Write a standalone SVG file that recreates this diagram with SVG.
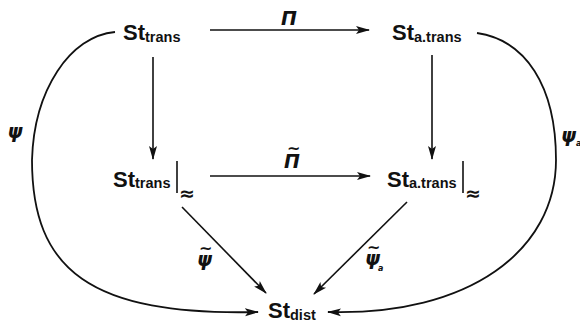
<svg xmlns="http://www.w3.org/2000/svg" width="580" height="326" viewBox="0 0 580 326">
<style>
.st{font-family:"Liberation Sans",Arial,sans-serif;font-weight:bold;font-size:22px;fill:#111}
.sub{font-size:14.5px}
.gr{font-family:"DejaVu Sans",sans-serif;font-weight:bold;font-style:oblique;font-size:19px;fill:#111}
.tl{font-style:normal;font-size:16px}
.eq{font-family:"DejaVu Sans",sans-serif;font-weight:bold;font-size:19px;fill:#111}
.ln{stroke:#111;stroke-width:1.6;fill:none}
.cv{stroke:#111;stroke-width:1.8;fill:none}
</style>
<defs>
<marker id="ah" markerUnits="userSpaceOnUse" markerWidth="14" markerHeight="10" viewBox="0 0 14 10" refX="13" refY="5" orient="auto">
<path d="M0,1 L14,5 L0,9 L3,5 Z" fill="#111"/>
</marker>
</defs>
<rect width="580" height="326" fill="#fff"/>
<g id="connectors">
<line class="ln" x1="210" y1="30" x2="369" y2="30" marker-end="url(#ah)"/>
<line class="ln" x1="210" y1="176" x2="370" y2="176" marker-end="url(#ah)"/>
<line class="ln" x1="153" y1="57" x2="153" y2="159" marker-end="url(#ah)"/>
<line class="ln" x1="432" y1="55" x2="432" y2="159" marker-end="url(#ah)"/>
<line class="ln" x1="182" y1="207" x2="266" y2="293" marker-end="url(#ah)"/>
<line class="ln" x1="407" y1="202" x2="314" y2="294" marker-end="url(#ah)"/>
<path class="cv" d="M115,32 C70,36 34,90 32,160 C32,270 90,316 258,312" marker-end="url(#ah)"/>
<path class="cv" d="M477,33 C525,40 556,85 556,160 C556,250 470,316 328,312" marker-end="url(#ah)"/>
<text class="gr" x="289" y="25" text-anchor="middle">Π</text>
<text class="gr" x="284" y="168">Π<tspan class="tl" x="287" y="154">~</tspan></text>
<text class="gr" x="15" y="138" text-anchor="middle">ψ</text>
<text class="gr" x="197" y="266">ψ<tspan class="tl" x="199" y="254">~</tspan></text>
<text class="gr" x="365" y="265">ψ<tspan class="tl" x="367" y="253">~</tspan><tspan style="font-size:8px" x="378" y="271">a</tspan></text>
<text class="gr" x="561" y="142">ψ<tspan style="font-size:8px" dy="4">a</tspan></text>
</g>
<g id="st-trans">
<text class="st" x="123" y="40">St<tspan class="sub" dy="2">trans</tspan></text>
</g>
<g id="st-atrans">
<text class="st" x="392" y="40">St<tspan class="sub" dy="2">a.trans</tspan></text>
</g>
<g id="st-trans-eq">
<text class="st" x="113" y="187">St<tspan class="sub" dy="1">trans</tspan></text>
<line class="ln" x1="177" y1="161" x2="177" y2="193"/>
<text class="eq" x="179" y="200">≈</text>
</g>
<g id="st-atrans-eq">
<text class="st" x="387" y="187">St<tspan class="sub" dy="1">a.trans</tspan></text>
<line class="ln" x1="463" y1="161" x2="463" y2="193"/>
<text class="eq" x="465" y="200">≈</text>
</g>
<g id="st-dist">
<text class="st" x="268" y="318">St<tspan class="sub" dy="2">dist</tspan></text>
</g>
</svg>
